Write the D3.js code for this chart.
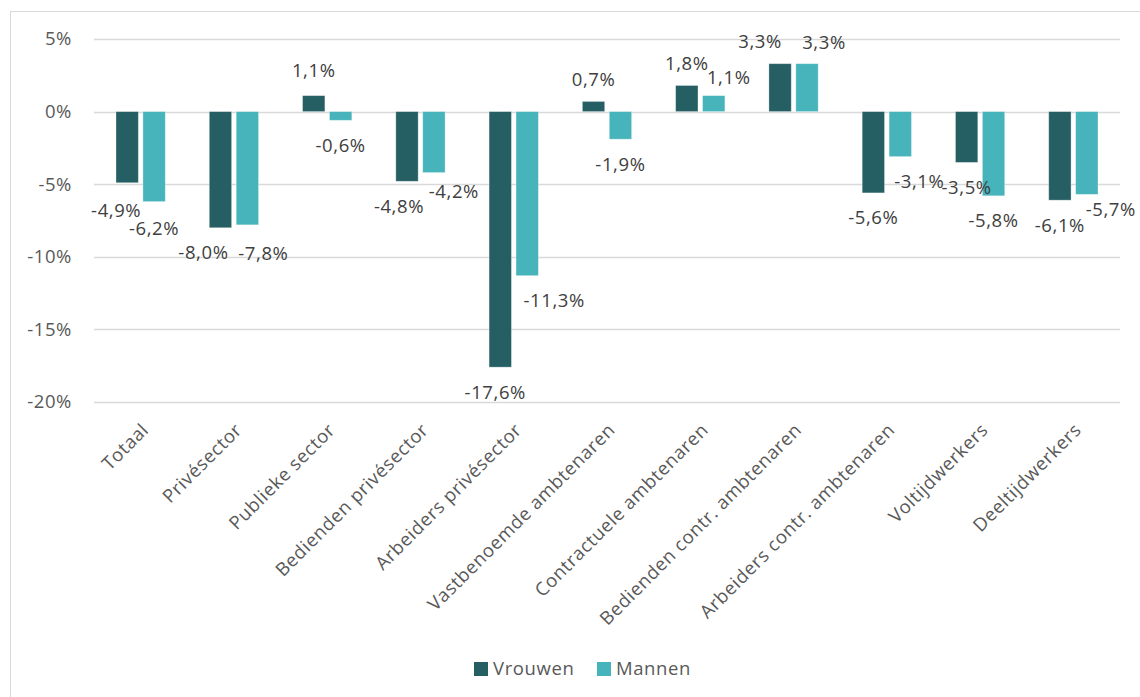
<!DOCTYPE html>
<html>
<head>
<meta charset="utf-8">
<script src="https://cdn.jsdelivr.net/npm/d3@7"></script>
<style>
  body { margin: 0; background: #fff; }
  text { font-family: "Open Sans", sans-serif; fill: #595959; font-size: 18.5px; letter-spacing: 0.6px; }
  text.value { fill: #404040; }
</style>
</head>
<body>
<div id="chart"></div>
<script>
// categories and series values (percent)
const categories = ["Totaal", "Privésector", "Publieke sector", "Bedienden privésector",
  "Arbeiders privésector", "Vastbenoemde ambtenaren", "Contractuele ambtenaren",
  "Bedienden contr. ambtenaren", "Arbeiders contr. ambtenaren", "Voltijdwerkers", "Deeltijdwerkers"];
const vrouwen = [-4.9, -8.0, 1.1, -4.8, -17.6, 0.7, 1.8, 3.3, -5.6, -3.5, -6.1];
const mannen  = [-6.2, -7.8, -0.6, -4.2, -11.3, -1.9, 1.1, 3.3, -3.1, -5.8, -5.7];
const seriesNames = ["Vrouwen", "Mannen"];
const yTicks = [5, 0, -5, -10, -15, -20];

// manual label nudges, as in the original (dx, dy per series)
const nudgeVrouwen = [[-11, 3], [-17, 0], [0, 0], [-8, 0], [-5, 0], [0, 3], [0, 3], [-20, 3], [0, 0], [0, 0], [0, 0]];
const nudgeMannen  = [[0, 2], [16, 4], [0, 0], [20, -6], [27, 0], [0, 0], [15, 7], [17, 4], [19, 0], [0, 0], [24, -10]];

const W = 1140, H = 697;
const colors = ["#265F63", "#47B3BB"];
const fmt = v => d3.format(".1f")(v).replace(".", ",").replace("−", "-") + "%";

const svg = d3.select("#chart").append("svg")
  .attr("width", W).attr("height", H);

// chart frame
svg.append("rect")
  .attr("x", 10.5).attr("y", 11.5)
  .attr("width", W).attr("height", H)
  .attr("fill", "none").attr("stroke", "#d9d9d9");

const x = d3.scaleBand().domain(categories).range([94, 1120]);
const y = d3.scaleLinear().domain([-20, 5]).range([402, 39]);
const x1 = d3.scaleBand().domain(seriesNames).range([22, x.bandwidth() - 22]).paddingInner(0.17);

// gridlines
svg.append("g").selectAll("line").data(yTicks).join("line")
  .attr("x1", 94).attr("x2", 1120)
  .attr("y1", d => Math.round(y(d)) + 0.5).attr("y2", d => Math.round(y(d)) + 0.5)
  .attr("stroke", "#d9d9d9").attr("stroke-width", 1.3);

// y axis labels
svg.append("g").selectAll("text").data(yTicks).join("text")
  .attr("x", 72).attr("y", d => y(d))
  .attr("dy", "0.35em")
  .attr("text-anchor", "end")
  .text(d => d + "%");

const rows = categories.map((c, i) => ({cat: c, i, vals: [vrouwen[i], mannen[i]]}));
const nudges = [nudgeVrouwen, nudgeMannen];

const groups = svg.append("g").selectAll("g").data(rows).join("g")
  .attr("transform", d => `translate(${x(d.cat)},0)`);

groups.selectAll("rect").data(d => d.vals.map((v, s) => ({v, s}))).join("rect")
  .attr("x", d => x1(seriesNames[d.s]))
  .attr("width", x1.bandwidth())
  .attr("y", d => y(Math.max(0, d.v)))
  .attr("height", d => Math.abs(y(d.v) - y(0)))
  .attr("fill", d => colors[d.s])
  .attr("stroke", "#fff").attr("stroke-opacity", 0.4).attr("stroke-width", 0.8);

// data labels
groups.selectAll("text").data(d => d.vals.map((v, s) => ({v, s, n: nudges[s][d.i]}))).join("text")
  .attr("class", "value")
  .attr("x", d => x1(seriesNames[d.s]) + x1.bandwidth() / 2 + d.n[0])
  .attr("y", d => y(d.v) + (d.v < 0 ? 25 : -25) + d.n[1])
  .attr("dy", "0.35em")
  .attr("text-anchor", "middle")
  .text(d => fmt(d.v));

// category labels
svg.append("g").selectAll("text").data(categories).join("text")
  .attr("transform", d => `translate(${x(d) + x.bandwidth() / 2},${422}) rotate(-45)`)
  .attr("text-anchor", "end")
  .attr("dy", "0.7em")
  .text(d => d);

// legend
const legend = svg.append("g").attr("transform", "translate(474,662)");
const items = legend.selectAll("g").data(seriesNames).join("g")
  .attr("transform", (d, i) => `translate(${i * 123},0)`);
items.append("rect").attr("width", 14).attr("height", 14)
  .attr("fill", (d, i) => colors[i]);
items.append("text").attr("x", 19).attr("y", 7).attr("dy", "0.35em")
  .text(d => d);
</script>
</body>
</html>
